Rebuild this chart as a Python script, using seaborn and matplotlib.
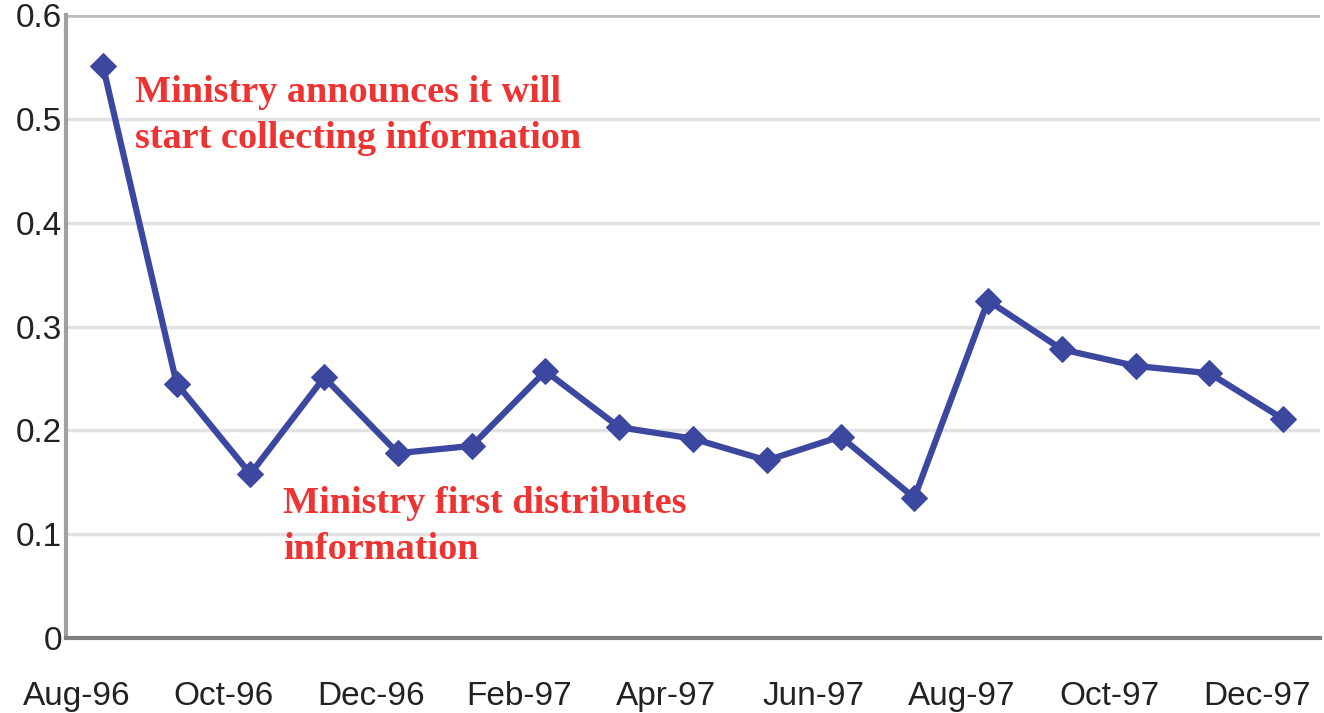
import numpy as np
import pandas as pd
import matplotlib
matplotlib.use('Agg')
import matplotlib.pyplot as plt
import seaborn as sns

months = ['Aug-96', 'Sep-96', 'Oct-96', 'Nov-96', 'Dec-96', 'Jan-97', 'Feb-97', 'Mar-97',
          'Apr-97', 'May-97', 'Jun-97', 'Jul-97', 'Aug-97', 'Sep-97', 'Oct-97', 'Nov-97', 'Dec-97']
values = [0.551, 0.245, 0.158, 0.251, 0.178, 0.185, 0.257, 0.203,
          0.192, 0.171, 0.194, 0.135, 0.325, 0.278, 0.262, 0.255, 0.211]
y_ticks = [0, 0.1, 0.2, 0.3, 0.4, 0.5, 0.6]
y_labels = ['0', '0.1', '0.2', '0.3', '0.4', '0.5', '0.6']
note_announce = 'Ministry announces it will\nstart collecting information'
note_distribute = 'Ministry first distributes\ninformation'

sns.set_style('white')
plt.rcParams['font.family'] = ['Liberation Sans', 'DejaVu Sans']

df = pd.DataFrame({'idx': np.arange(len(months)), 'value': values})

fig = plt.figure(figsize=(13.24, 7.13), dpi=100)
ax = fig.add_axes([66 / 1324, 75 / 713, (1320 - 66) / 1324, (638 - 15) / 713])

# gridlines
for yv in y_ticks[1:-1]:
    ax.axhline(yv, color='#e2e2e2', lw=2.5, zorder=0)
ax.axhline(0.6, color='#bdbdbd', lw=4, zorder=0)

sns.lineplot(data=df, x='idx', y='value', ax=ax, color='#3c479f', lw=4.5,
             marker='D', markersize=13, markeredgecolor='#3c479f', zorder=3)

ax.set_xlim(-0.5, len(months) - 0.5)
ax.set_ylim(0, 0.6)
ax.set_xlabel('')
ax.set_ylabel('')

# tick marks at category boundaries, labels shifted left of the points
ax.set_xticks(np.arange(len(months) + 1) - 0.5)
ax.set_xticklabels([])
ax.tick_params(axis='x', which='major', length=7, width=1.5, color='#dddddd', direction='out')
ax.set_xticks(np.arange(0, len(months), 2) - 0.36, minor=True)
ax.set_xticklabels(months[::2], minor=True)
ax.tick_params(axis='x', which='minor', length=0, pad=31, labelsize=24, labelcolor='#222222')

ax.set_yticks(y_ticks)
ax.set_yticklabels(y_labels)
ax.tick_params(axis='y', length=0, pad=3, labelsize=24, labelcolor='#222222')

for s in ['top', 'right']:
    ax.spines[s].set_visible(False)
ax.spines['left'].set_color('#a0a0a0')
ax.spines['left'].set_linewidth(3)
ax.spines['bottom'].set_color('#808080')
ax.spines['bottom'].set_linewidth(3)

ax.text(0.43, 0.542, note_announce, color='#ee3333', fontsize=27.5, fontweight='bold',
        family=['Liberation Serif', 'DejaVu Serif'], va='top', ha='left', linespacing=1.4)
ax.text(2.44, 0.146, note_distribute, color='#ee3333', fontsize=27.5, fontweight='bold',
        family=['Liberation Serif', 'DejaVu Serif'], va='top', ha='left', linespacing=1.4)

fig.savefig('out.png', dpi=100)
